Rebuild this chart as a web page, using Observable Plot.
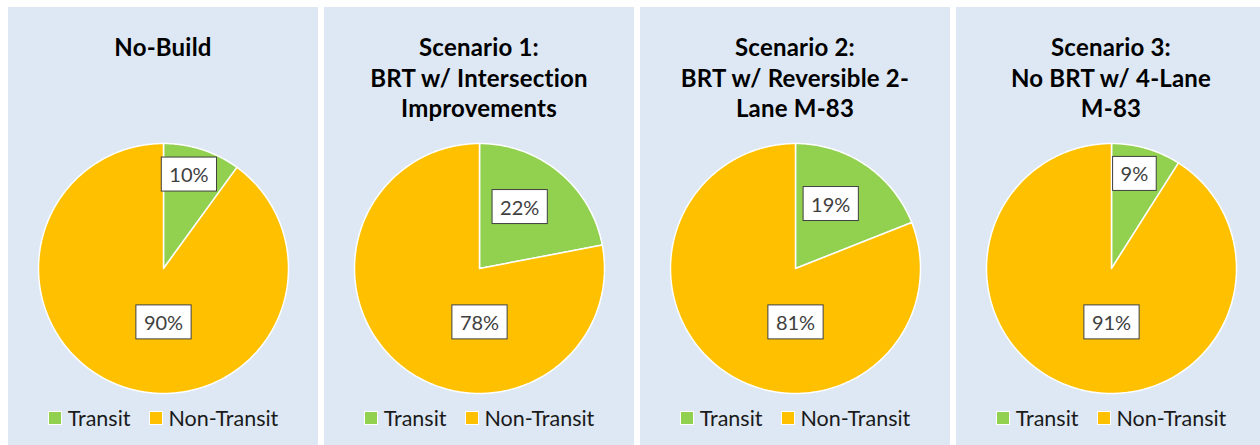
<!DOCTYPE html>
<html>
<head>
<meta charset="utf-8">
<script src="https://cdn.jsdelivr.net/npm/d3@7"></script>
<script src="https://cdn.jsdelivr.net/npm/@observablehq/plot@0.6"></script>
<style>
  html, body { margin: 0; padding: 0; background: #fff; width: 1260px; height: 445px; overflow: hidden; }
  .panel { position: absolute; top: 7px; width: 310px; height: 438px; background: #DDE8F4; font-family: Lato, "Open Sans", sans-serif; }
  .title { position: absolute; top: 25px; left: 0; width: 100%; text-align: center; font-weight: bold; font-size: 24px; line-height: 30.5px; color: #000; letter-spacing: 0.2px; }
  .chart { position: absolute; left: 0; top: 128px; }
  .legend { position: absolute; top: 398px; left: 0; width: 100%; display: flex; justify-content: center; align-items: center; font-size: 21.5px; color: #1a1a1a; }
  .legend .item { display: flex; align-items: center; margin: 0 9px; }
  .legend .sw { width: 12px; height: 12px; border: 1px solid #fff; margin-right: 6px; }
</style>
</head>
<body>
<script>
// ---- data ----
const titleLines = [
  ["No-Build"],
  ["Scenario 1:", "BRT w/ Intersection", "Improvements"],
  ["Scenario 2:", "BRT w/ Reversible 2-", "Lane M-83"],
  ["Scenario 3:", "No BRT w/ 4-Lane", "M-83"]
];
const categories = ["Transit", "Non-Transit"];
const transitShare = [10, 22, 19, 9];
const nonTransitShare = [90, 78, 81, 91];
const sliceColors = ["#92D050", "#FFC000"];

// ---- layout ----
const panelLeft = [8, 324, 640, 956];
const W = 310, H = 266, CX = 155, CY = 133, R = 125;
const FONT = "Lato, 'Open Sans', sans-serif";

titleLines.forEach((lines, i) => {
  const panel = document.createElement("div");
  panel.className = "panel";
  panel.style.left = panelLeft[i] + "px";
  document.body.appendChild(panel);

  const t = document.createElement("div");
  t.className = "title";
  t.innerHTML = lines.map(s => s.replace(/&/g, "&amp;").replace(/</g, "&lt;")).join("<br>");
  panel.appendChild(t);

  const shares = [transitShare[i], nonTransitShare[i]];
  const total = d3.sum(shares);

  const pts = [];
  const labels = [];
  let a0 = 0;
  shares.forEach((v, k) => {
    const span = v / total * 2 * Math.PI;
    const a1 = a0 + span;
    const cat = categories[k];
    pts.push({cat, x: 0, y: 0});
    const n = Math.max(2, Math.ceil(span / (Math.PI / 180)));
    for (let j = 0; j <= n; j++) {
      const a = a0 + span * j / n;
      pts.push({cat, x: Math.sin(a), y: Math.cos(a)});
    }
    pts.push({cat, x: 0, y: 0});
    let la, lr;
    if (v / total >= 0.5) { la = Math.PI; lr = 0.44; }
    else {
      const half = span / 2;
      la = a0 + half * 0.85;
      lr = Math.min(0.77, Math.max(0.58, (30 / R) / Math.sin(half)));
    }
    labels.push({cat, x: lr * Math.sin(la), y: lr * Math.cos(la), text: v + "%"});
    a0 = a1;
  });

  const svg = Plot.plot({
    width: W, height: H,
    margin: 0,
    style: {background: "transparent", overflow: "visible"},
    x: {domain: [-1, 1], range: [CX - R, CX + R], axis: null},
    y: {domain: [-1, 1], range: [CY + R, CY - R], axis: null},
    color: {domain: categories, range: sliceColors},
    marks: [
      Plot.line(pts, {x: "x", y: "y", z: "cat", fill: "cat", stroke: "white", strokeWidth: 1.5, curve: "linear", strokeLinejoin: "round"}),
      Plot.text(labels, {x: "x", y: "y", text: "text", fill: "#404040", fontSize: 20, fontFamily: FONT, className: "pct"})
    ]
  });
  svg.classList.add("chart");
  panel.appendChild(svg);

  svg.querySelectorAll(".pct text").forEach(tx => {
    const b = tx.getBBox();
    const cy = b.y + b.height / 2;
    const r = document.createElementNS("http://www.w3.org/2000/svg", "rect");
    r.setAttribute("x", b.x - 8);
    r.setAttribute("y", cy - 17);
    r.setAttribute("width", b.width + 16);
    r.setAttribute("height", 34);
    r.setAttribute("fill", "#fff");
    r.setAttribute("stroke", "#404040");
    r.setAttribute("stroke-width", 1);
    const tr = tx.getAttribute("transform");
    if (tr) r.setAttribute("transform", tr);
    tx.parentNode.insertBefore(r, tx);
  });

  const leg = document.createElement("div");
  leg.className = "legend";
  categories.forEach((c, k) => {
    const it = document.createElement("div");
    it.className = "item";
    const sw = document.createElement("span");
    sw.className = "sw";
    sw.style.background = sliceColors[k];
    const lb = document.createElement("span");
    lb.textContent = c;
    it.appendChild(sw); it.appendChild(lb);
    leg.appendChild(it);
  });
  panel.appendChild(leg);
});
</script>
</body>
</html>
